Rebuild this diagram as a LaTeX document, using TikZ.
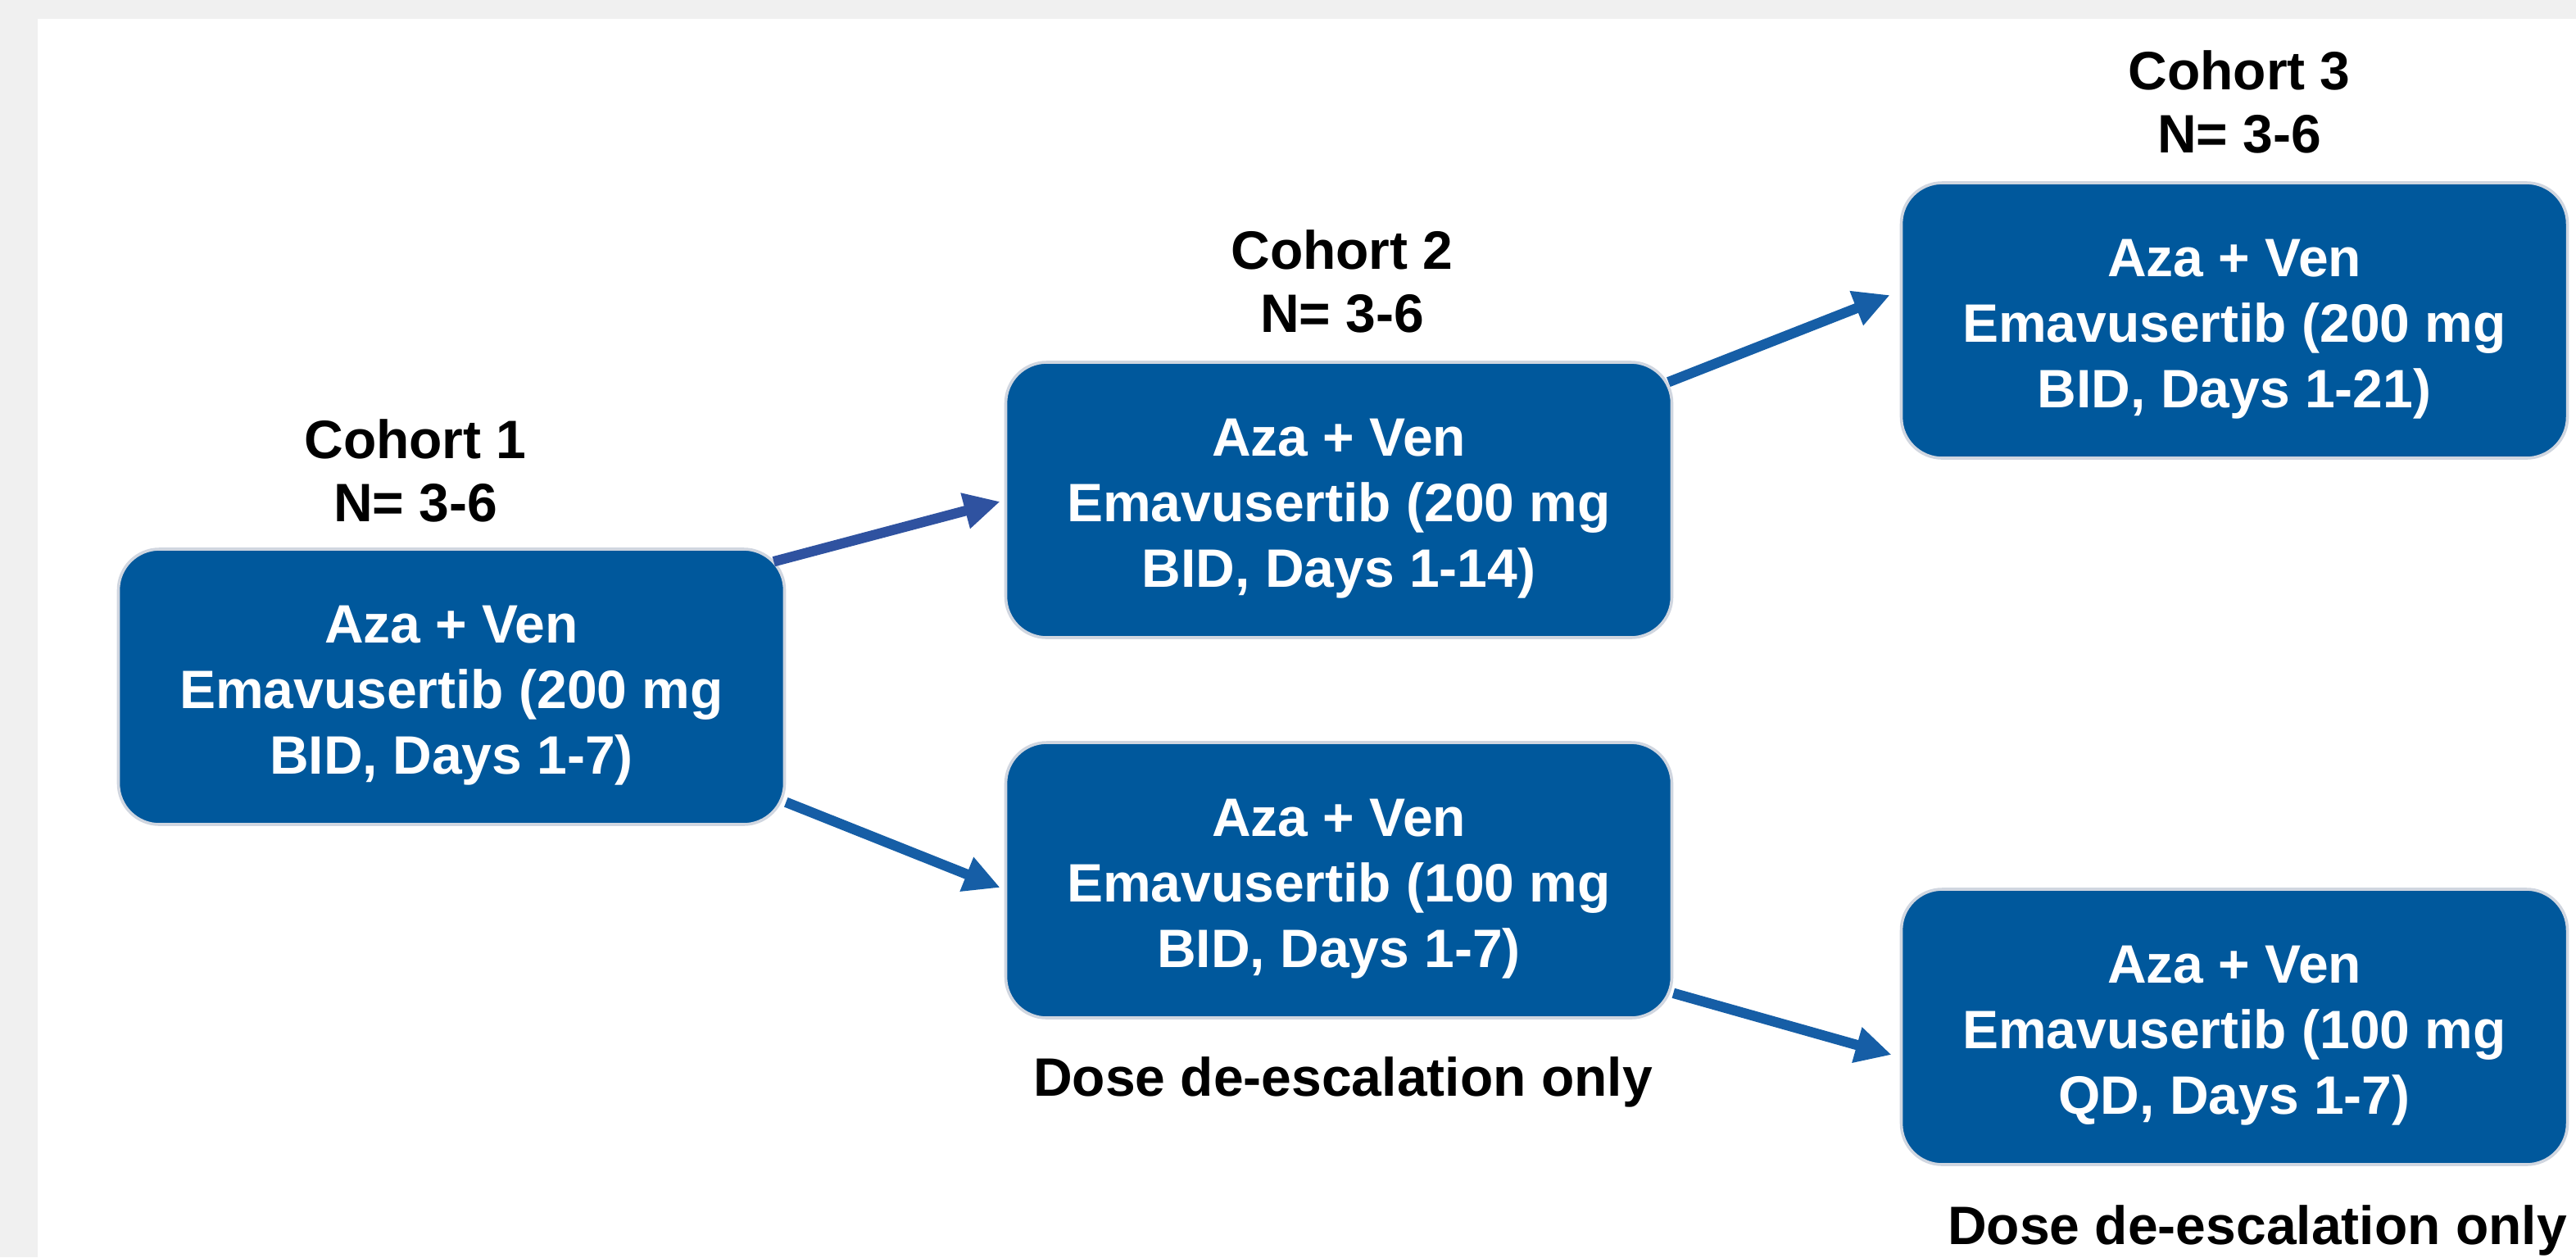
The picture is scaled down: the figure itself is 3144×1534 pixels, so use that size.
\documentclass[tikz,border=0pt]{standalone}
\usepackage{fontspec}
\setmainfont{Liberation Sans}
\usetikzlibrary{arrows.meta,calc}
\definecolor{boxblue}{RGB}{0,88,156}
\definecolor{arrowblue}{RGB}{22,94,166}
\definecolor{arrowindigo}{RGB}{47,82,160}
\definecolor{rimgray}{RGB}{208,214,224}
\definecolor{framegray}{RGB}{240,240,240}
\newcommand\toppad{\rule{0pt}{16.5pt}}
\begin{document}
\begin{tikzpicture}[x=0.25pt,y=-0.25pt,
  cohortbox/.style={draw=rimgray, line width=0.9pt, fill=boxblue,
    rounded corners=12.5pt, minimum width=203.25pt, minimum height=84pt,
    inner sep=0pt, align=center, text=white,
    font=\bfseries\fontsize{16.5pt}{20pt}\selectfont},
  labeltext/.style={align=center, inner sep=0pt, text=black,
    font=\bfseries\fontsize{16.5pt}{19.25pt}\selectfont},
  flowarrow/.style={draw=arrowblue, line width=3.1pt,
    -{Triangle[length=11pt,width=10.5pt]}},
]
\fill[framegray] (0,0) rectangle (3144,1534);
\fill[white] (46,23) rectangle (3144,1534);
\useasboundingbox (0,0) rectangle (3144,1534);

% boxes
\node[cohortbox] (b1) at (551,838)  {\toppad Aza + Ven\\Emavusertib (200 mg\\BID, Days 1-7)};
\node[cohortbox] (b2) at (1634,610) {\toppad Aza + Ven\\Emavusertib (200 mg\\BID, Days 1-14)};
\node[cohortbox] (b3) at (2727,391) {\toppad Aza + Ven\\Emavusertib (200 mg\\BID, Days 1-21)};
\node[cohortbox] (b4) at (1634,1074) {\toppad Aza + Ven\\Emavusertib (100 mg\\BID, Days 1-7)};
\node[cohortbox] (b5) at (2727,1253) {\toppad Aza + Ven\\Emavusertib (100 mg\\QD, Days 1-7)};

% labels
\node[labeltext] (c1) at (507,574.5)  {Cohort 1\\N= 3-6};
\node[labeltext] (c2) at (1638,343)   {Cohort 2\\N= 3-6};
\node[labeltext] (c3) at (2733,124.5) {Cohort 3\\N= 3-6};
\node[labeltext] (d4) at (1639,1320)  {Dose de-escalation only};
\node[labeltext] (d5) at (2755,1501)  {Dose de-escalation only};

% arrows
\draw[flowarrow, draw=arrowindigo] ($(b1.north east)+(-15,17)$) -- ($(b2.west)+(-5,2)$);
\draw[flowarrow] ($(b1.south east)+(0,-29)$) -- ($(b4.west)+(-5,9)$);
\draw[flowarrow] ($(b2.north east)+(-6,26)$) -- ($(b3.west)+(-12,-31)$);
\draw[flowarrow] ($(b4.south east)+(0,-32)$) -- ($(b5.west)+(-10,34)$);
\end{tikzpicture}
\end{document}
